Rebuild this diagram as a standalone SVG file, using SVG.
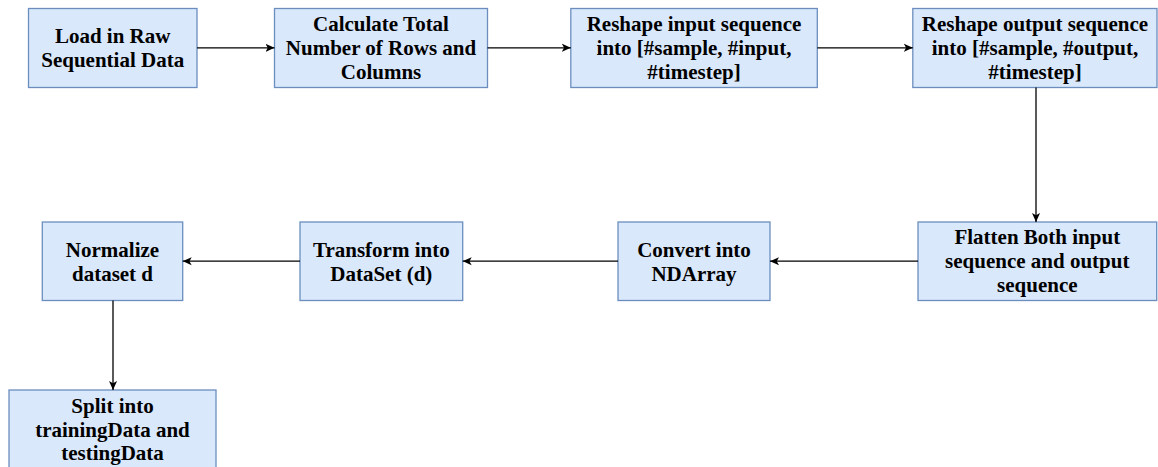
<svg xmlns="http://www.w3.org/2000/svg" width="1158" height="467" viewBox="0 0 1158 467">
  <style>
    .box { fill: #dae8fc; stroke: #6c8ebf; stroke-width: 1.3; }
    .lbl { font-family: "Liberation Serif", "Times New Roman", serif; font-weight: bold; font-size: 21px; fill: #000; text-anchor: middle; }
    .edge { fill: none; stroke: #000; stroke-width: 1.3; }
  </style>
  <defs>
    <marker id="arrow" viewBox="0 0 10 10" refX="10" refY="5" markerWidth="9" markerHeight="9" markerUnits="userSpaceOnUse" orient="auto">
      <path d="M0,0.5 L10,5 L0,9.5 L2.5,5 Z" fill="#000"/>
    </marker>
  </defs>
  <rect width="1158" height="467" fill="#fff"/>

  <!-- top row -->
  <g id="load">
    <rect class="box" x="28.5" y="8.5" width="168.5" height="79"/>
    <text class="lbl" x="112.7"><tspan x="112.7" y="43">Load in Raw</tspan><tspan x="112.7" y="67.3">Sequential Data</tspan></text>
  </g>
  <g id="calc">
    <rect class="box" x="274.5" y="8.5" width="213" height="79"/>
    <text class="lbl"><tspan x="381" y="30.8">Calculate Total</tspan><tspan x="381" y="54.8">Number of Rows and</tspan><tspan x="381" y="78.8">Columns</tspan></text>
  </g>
  <g id="reshape-input">
    <rect class="box" x="570.8" y="8.5" width="246.5" height="79"/>
    <text class="lbl"><tspan x="694" y="30.8">Reshape input sequence</tspan><tspan x="694" y="54.8">into [#sample, #input,</tspan><tspan x="694" y="78.8">#timestep]</tspan></text>
  </g>
  <g id="reshape-output">
    <rect class="box" x="912.8" y="8.5" width="244.2" height="79"/>
    <text class="lbl"><tspan x="1035" y="30.8">Reshape output sequence</tspan><tspan x="1035" y="54.8">into [#sample, #output,</tspan><tspan x="1035" y="78.8">#timestep]</tspan></text>
  </g>

  <!-- second row -->
  <g id="flatten">
    <rect class="box" x="918" y="222" width="238.7" height="78.5"/>
    <text class="lbl"><tspan x="1037.3" y="244.2">Flatten Both input</tspan><tspan x="1037.3" y="268.2">sequence and output</tspan><tspan x="1037.3" y="292.2">sequence</tspan></text>
  </g>
  <g id="convert">
    <rect class="box" x="618" y="222" width="152" height="78.5"/>
    <text class="lbl"><tspan x="694" y="256.5">Convert into</tspan><tspan x="694" y="280.8">NDArray</tspan></text>
  </g>
  <g id="transform">
    <rect class="box" x="300" y="222" width="162.7" height="78.5"/>
    <text class="lbl"><tspan x="381.3" y="256.5">Transform into</tspan><tspan x="381.3" y="280.8">DataSet (d)</tspan></text>
  </g>
  <g id="normalize">
    <rect class="box" x="42.3" y="222" width="140.4" height="78.5"/>
    <text class="lbl"><tspan x="112.5" y="256.5">Normalize</tspan><tspan x="112.5" y="280.8">dataset d</tspan></text>
  </g>

  <!-- last step -->
  <g id="split">
    <rect class="box" x="9" y="390" width="207" height="79"/>
    <text class="lbl"><tspan x="112.5" y="413.3">Split into</tspan><tspan x="112.5" y="436.7">trainingData and</tspan><tspan x="112.5" y="460">testingData</tspan></text>
  </g>

  <!-- connectors -->
  <g id="connectors">
    <path class="edge" d="M197,47.8 L274.5,47.8" marker-end="url(#arrow)"/>
    <path class="edge" d="M487.5,47.8 L570.8,47.8" marker-end="url(#arrow)"/>
    <path class="edge" d="M817.3,47.8 L912.8,47.8" marker-end="url(#arrow)"/>
    <path class="edge" d="M1036,87.5 L1036,222" marker-end="url(#arrow)"/>
    <path class="edge" d="M918,261.2 L770,261.2" marker-end="url(#arrow)"/>
    <path class="edge" d="M618,261.2 L462.7,261.2" marker-end="url(#arrow)"/>
    <path class="edge" d="M300,261.2 L182.7,261.2" marker-end="url(#arrow)"/>
    <path class="edge" d="M113,300.5 L113,390" marker-end="url(#arrow)"/>
  </g>
</svg>
